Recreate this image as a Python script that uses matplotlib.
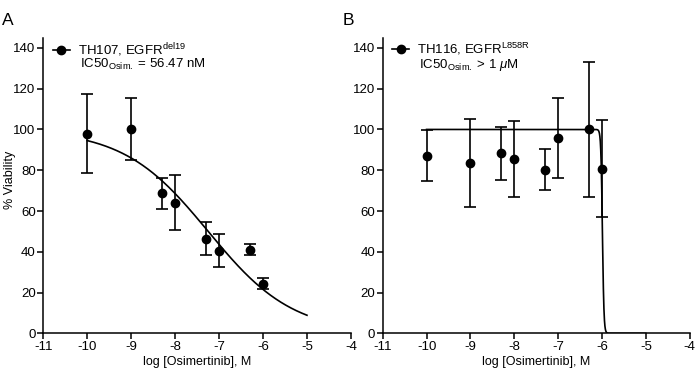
import numpy as np
import matplotlib
matplotlib.use("Agg")
import matplotlib.pyplot as plt

plt.rcParams['font.family'] = ['Liberation Sans', 'DejaVu Sans']
plt.rcParams['mathtext.fontset'] = 'custom'
plt.rcParams['mathtext.rm'] = 'Liberation Sans'
plt.rcParams['mathtext.it'] = 'Liberation Sans:italic'
plt.rcParams['mathtext.bf'] = 'Liberation Sans:bold'

# ---- data ----
log_conc = [-10, -9, -8.3, -8, -7.3, -7, -6.3, -6]

a_viab = [98.0, 100.2, 68.6, 64.0, 46.5, 40.6, 41.0, 24.3]
a_err = [19.3, 15.0, 7.7, 13.5, 8.2, 8.3, 2.6, 2.7]
a_fit = dict(top=100.0, bottom=0.0, logic50=np.log10(56.47e-9), hill=0.45)

b_viab = [87.2, 83.5, 88.3, 85.7, 80.3, 95.8, 100.0, 80.8]
b_err = [12.7, 21.6, 13.0, 18.6, 9.9, 19.8, 33.2, 23.6]
b_fit = dict(top=100.0, bottom=0.0, logic50=-5.99, hill=25.0)

fit_range = (-10, -5)

a_label = r'TH107, EGFR$^{\mathregular{del19}}$'
a_ic50 = r'IC50$_{\mathregular{Osim.}}$ = 56.47 nM'
b_label = r'TH116, EGFR$^{\mathregular{L858R}}$'
b_ic50 = r'IC50$_{\mathregular{Osim.}}$ > 1 $\mu$M'

xticks = [-11, -10, -9, -8, -7, -6, -5, -4]
yticks = [0, 20, 40, 60, 80, 100, 120, 140]


def logistic(x, p):
    return p['bottom'] + (p['top'] - p['bottom']) / (1 + 10 ** ((x - p['logic50']) * p['hill']))


fig = plt.figure(figsize=(6.96, 3.8), dpi=100)
axA = fig.add_axes([0.0622, 0.1228, 0.442, 0.778])
axB = fig.add_axes([0.5499, 0.1228, 0.441, 0.778])

for ax, viab, err, fit, lab, ic in [(axA, a_viab, a_err, a_fit, a_label, a_ic50),
                                     (axB, b_viab, b_err, b_fit, b_label, b_ic50)]:
    xs = np.linspace(fit_range[0], fit_range[1], 2000)
    ax.plot(xs, logistic(xs, fit), color='black', lw=1.2, zorder=2)
    ax.errorbar(log_conc, viab, yerr=err, fmt='none', ecolor='black',
                elinewidth=1.2, capsize=4, capthick=1.2, zorder=3)
    ax.plot(log_conc, viab, 'o', color='black', ms=6, zorder=4)
    h, = ax.plot([], [], 'o-', color='black', ms=6, lw=1.2)
    leg = ax.legend([h], [lab], loc='upper left', frameon=False, fontsize=9.5,
                    handlelength=1.3, handletextpad=0.6,
                    bbox_to_anchor=(0.0, 1.02), borderaxespad=0.3)
    ax.text(0.118, 0.908, ic, transform=ax.transAxes, fontsize=9.5,
            ha='left', va='center')
    ax.set_xlim(-11, -4)
    ax.set_ylim(0, 145)
    ax.set_xticks(xticks)
    ax.set_xticklabels([str(t) for t in xticks])
    ax.set_yticks(yticks)
    ax.spines['top'].set_visible(False)
    ax.spines['right'].set_visible(False)
    ax.spines['left'].set_linewidth(1.1)
    ax.spines['bottom'].set_linewidth(1.1)
    ax.tick_params(direction='out', length=4, width=1.1, labelsize=9.5, pad=1.5)
    ax.set_xlabel('log [Osimertinib], M', fontsize=9, labelpad=2)

axA.set_ylabel('% Viability', fontsize=9)
axA.yaxis.set_label_coords(-0.09, 0.52)

fig.text(0.003, 0.945, 'A', fontsize=12.5, ha='left', va='center')
fig.text(0.492, 0.945, 'B', fontsize=12.5, ha='left', va='center')

fig.savefig('out.png', dpi=100)
